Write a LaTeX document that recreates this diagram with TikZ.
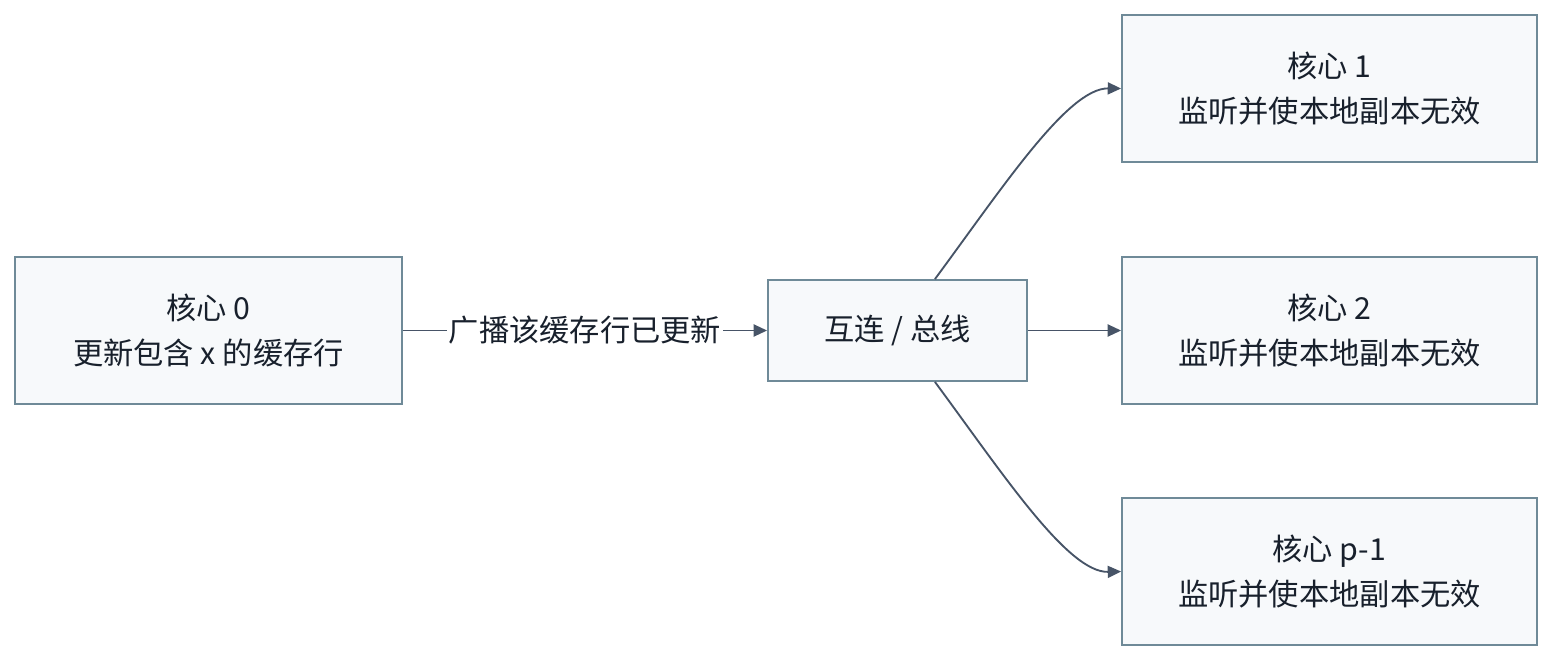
\documentclass[tikz,border=0pt]{standalone}
\usepackage{fontspec}
\setmainfont{Noto Sans CJK SC}
\usetikzlibrary{arrows.meta,positioning}
\definecolor{boxfill}{HTML}{F7F9FB}
\definecolor{boxline}{HTML}{6F8A98}
\definecolor{edgecol}{HTML}{475467}
\definecolor{txt}{HTML}{18202C}
\tikzset{
  box/.style={draw=boxline, fill=boxfill, line width=1.4pt, align=center, text=txt,
    font=\fontsize{22.7pt}{33.5pt}\selectfont, inner sep=0pt},
  edge/.style={draw=edgecol, line width=1.4pt, -{Triangle[length=10pt,width=9pt]}},
  elabel/.style={fill=white, text=txt, font=\fontsize{22.7pt}{26pt}\selectfont, inner sep=1pt}
}
\begin{document}
\begin{tikzpicture}[x=0.75pt,y=-0.75pt]
\useasboundingbox (0,0) rectangle (1568,668);
\node[box, minimum width=387*0.75pt, minimum height=147*0.75pt] (c0) at (208.5,330.5) {核心 0\\更新包含 x 的缓存行};
\node[box, minimum width=259*0.75pt, minimum height=101*0.75pt] (bus) at (897.5,330.5) {互连 / 总线};
\node[box, minimum width=415*0.75pt, minimum height=147*0.75pt] (c1) at (1329.5,88.5) {核心 1\\监听并使本地副本无效};
\node[box, minimum width=415*0.75pt, minimum height=147*0.75pt] (c2) at (1329.5,330.5) {核心 2\\监听并使本地副本无效};
\node[box, minimum width=415*0.75pt, minimum height=147*0.75pt] (cp) at (1329.5,571.5) {核心 p-1\\监听并使本地副本无效};
\draw[edge] (c0) -- node[elabel] {广播该缓存行已更新} (bus);
\draw[edge] (bus) -- (c2);
\draw[edge] ([xshift=28.1pt]bus.north) .. controls (1003,187) and (1068,88) .. (c1.west);
\draw[edge] ([xshift=28.1pt]bus.south) .. controls (1003,474) and (1068,573) .. (cp.west);
\end{tikzpicture}
\end{document}
